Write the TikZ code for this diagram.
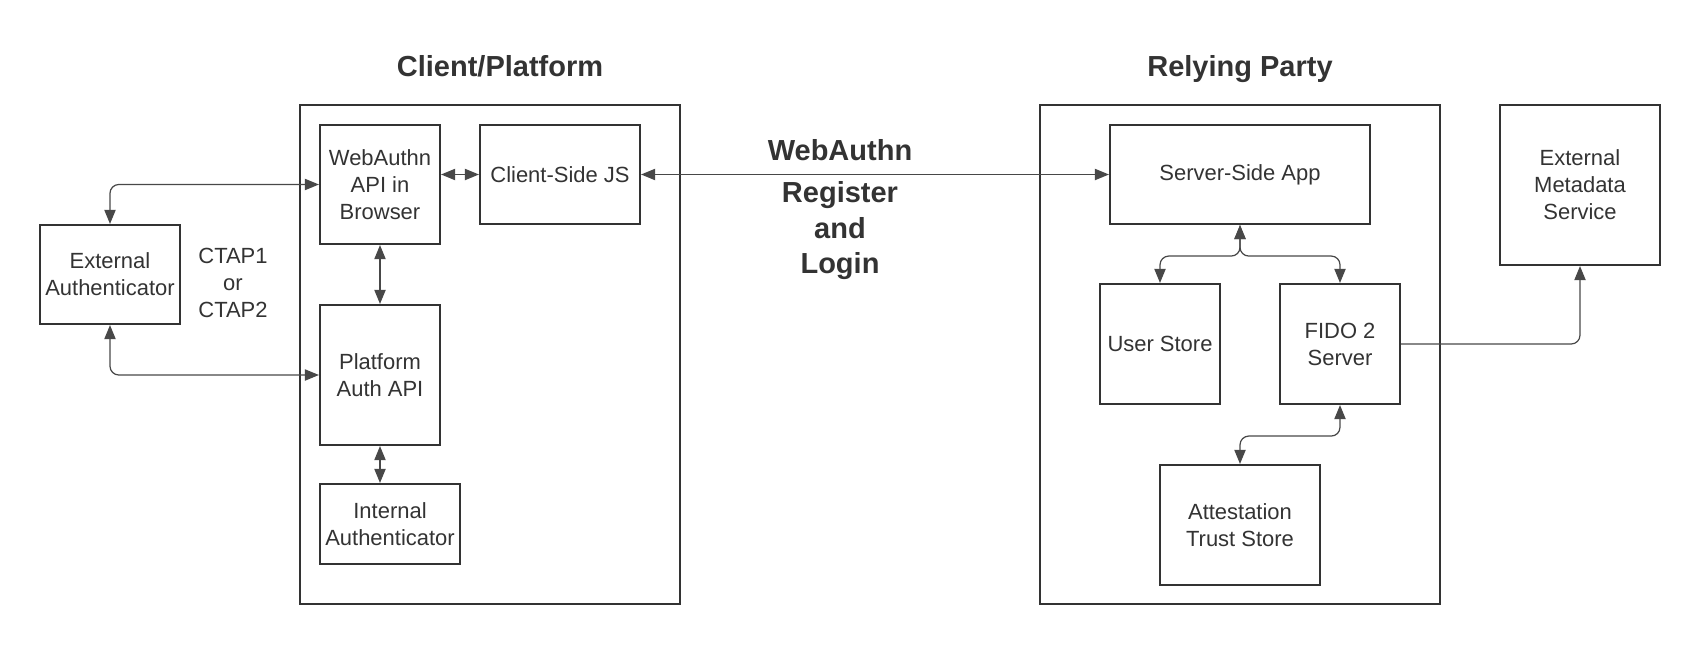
\documentclass[tikz,border=0pt]{standalone}
\usepackage{fontspec}
\setmainfont{Liberation Sans}
\usetikzlibrary{arrows.meta}
\definecolor{inkgray}{RGB}{51,51,51}
\definecolor{wiregray}{RGB}{72,72,72}
\tikzset{box/.style={draw=inkgray,line width=1.2pt,align=center,inner sep=0pt,
 font=\fontsize{12.5}{15.4}\selectfont,text=inkgray},
 group/.style={draw=inkgray,line width=1.2pt,inner sep=0pt},
 note/.style={align=center,inner sep=0pt,font=\fontsize{12.5}{15.4}\selectfont,text=inkgray},
 heading/.style={align=center,inner sep=0pt,font=\bfseries\fontsize{16.5}{20.2}\selectfont,text=inkgray},
 link/.style={{Triangle[length=8pt,width=6.4pt]}-{Triangle[length=8pt,width=6.4pt]},
  line width=.7pt,draw=wiregray,rounded corners=5pt},
 oneway/.style={-{Triangle[length=8pt,width=6.4pt]},line width=.7pt,draw=wiregray,rounded corners=5pt}}

\begin{document}
\begin{tikzpicture}
\useasboundingbox (0,0) rectangle (34,-12.9);
% the two sides
\node[group,minimum width=7.6cm,minimum height=9.98cm] (client) at (9.8,-7.09) {};
\node[group,minimum width=8cm,minimum height=9.98cm] (party) at (24.8,-7.09) {};
\node[heading,anchor=base] (clienttitle) at (10,-1.53) {Client/Platform};
\node[heading,anchor=base] (partytitle) at (24.8,-1.53) {Relying Party};
% components
\foreach \name/\x/\y/\w/\h/\label in {
ext/2.2/-5.49/2.8/1.98/{External\\Authenticator},
web/7.6/-3.69/2.4/2.38/{WebAuthn\\API in\\Browser},
js/11.2/-3.49/3.2/1.98/{Client-Side JS},
plat/7.6/-7.5/2.4/2.8/{Platform\\Auth API},
intern/7.8/-10.48/2.8/1.6/{Internal\\Authenticator},
ssa/24.8/-3.49/5.2/1.98/{Server-Side App},
us/23.2/-6.88/2.4/2.4/{User Store},
fido/26.8/-6.88/2.4/2.4/{FIDO 2\\Server},
att/24.8/-10.5/3.2/2.4/{Attestation\\Trust Store},
meta/31.6/-3.7/3.2/3.2/{External\\Metadata\\Service}}
  \node[box,minimum width=\w cm,minimum height=\h cm] (\name) at (\x,\y) {\label};
\node[note] (ctap) at (4.66,-5.65) {CTAP1\\or\\CTAP2};
\node[heading,anchor=base] (protocol) at (16.8,-3.21) {WebAuthn};
\node[heading] (flows) at (16.8,-4.62) {Register\\and\\Login};
% connectors
\draw[link] (web.west) -| (ext.north);
\draw[link] (plat.west) -| (ext.south);
\draw[link] (js.west) -- (js.west -| web.east);
\draw[link] (js.east) -- (ssa.west);
\draw[link] (web.south) -- (plat.north);
\draw[link] (plat.south) -- (plat.south |- intern.north);
\draw[link] (ssa.south) -- ++(0,-.62) -| (us.north);
\draw[link] (ssa.south) -- ++(0,-.62) -| (fido.north);
\draw[oneway] (fido.east) -| (meta.south);
\draw[link] (fido.south) -- ++(0,-.62) -| (att.north);
\end{tikzpicture}
\end{document}
